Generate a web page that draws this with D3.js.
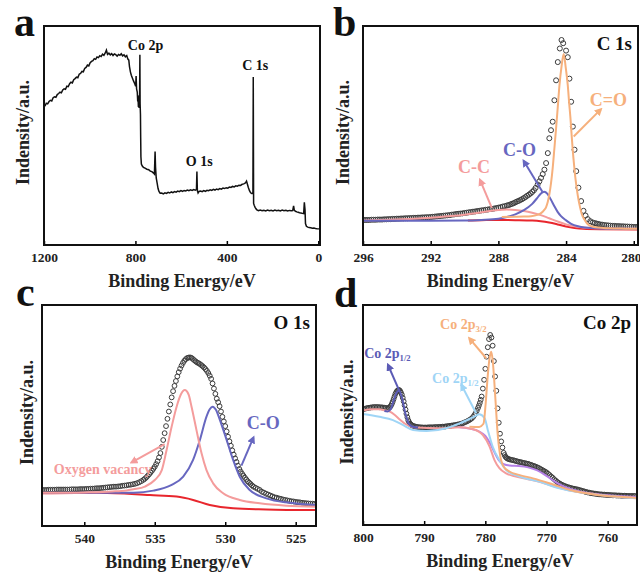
<!DOCTYPE html>
<html>
<head>
<meta charset="utf-8">
<title>XPS spectra</title>
<script src="https://cdn.jsdelivr.net/npm/d3@7/dist/d3.min.js"></script>
<style>
  body { margin: 0; background: #fff; }
  svg text { font-family: "Liberation Serif", "Times New Roman", serif; font-weight: bold; }
</style>
</head>
<body>
<script>
// binding energy (eV), intensity (a.u.)
var surveyData = [[1196,61.8],[1190,63.2],[1184,62.9],[1178,64.0],[1172,64.6],[1166,64.3],[1160,65.8],[1154,66.2],[1148,66.0],[1142,67.3],[1136,67.8],[1130,68.4],[1124,68.1],[1118,69.5],[1112,70.0],[1106,69.8],[1100,71.2],[1094,71.0],[1088,72.4],[1082,73.1],[1076,72.8],[1070,74.3],[1064,74.8],[1058,75.5],[1052,75.2],[1046,76.9],[1040,77.3],[1034,78.2],[1028,78.0],[1022,79.6],[1016,80.1],[1010,81.2],[1004,80.8],[998,82.3],[992,82.9],[986,83.3],[980,84.2],[974,83.9],[968,85.0],[962,84.7],[956,85.6],[950,85.2],[944,86.3],[938,85.8],[932,86.9],[927,88.2],[922,86.2],[916,86.8],[910,86.0],[904,86.6],[898,85.7],[892,86.4],[886,86.1],[880,85.4],[874,86.2],[868,85.8],[862,86.5],[856,85.5],[850,86.0],[844,85.1],[838,85.7],[833,84.0],[829,83.5],[826,80.5],[822,78.0],[818,76.4],[813,75.0],[808,73.6],[803,72.4],[799,71.2],[797,76.0],[795,70.0],[792,68.5],[790,64.0],[789,67.0],[787,61.5],[786,66.5],[784,61.0],[783,65.0],[782,62.0],[780.5,86.0],[779.5,63.0],[778,58.0],[777,47.0],[776,38.0],[774,34.5],[770,33.6],[765,33.0],[758,32.6],[750,32.1],[742,31.9],[735,31.2],[728,31.0],[722,30.4],[717,29.8],[714,40.5],[712,33.0],[709,28.0],[705,25.5],[701,23.0],[697,21.6],[692,20.8],[685,20.9],[678,20.5],[671,21.0],[664,20.7],[657,21.2],[650,20.9],[643,21.4],[636,21.1],[629,21.6],[622,21.3],[615,21.8],[608,21.5],[601,22.0],[594,21.7],[587,22.1],[580,21.9],[573,22.3],[566,22.0],[559,22.4],[552,22.1],[545,22.5],[538,22.2],[533,22.6],[531,31.0],[529,22.0],[526,20.9],[522,21.6],[515,21.8],[508,21.5],[501,22.0],[494,21.7],[487,22.2],[480,22.0],[473,22.4],[466,22.1],[459,22.6],[452,22.3],[445,22.8],[438,22.5],[431,23.0],[424,22.7],[417,23.2],[410,23.0],[403,23.4],[396,23.2],[389,23.7],[382,23.5],[375,24.0],[368,23.8],[361,24.3],[354,24.1],[347,24.6],[340,24.5],[333,25.0],[326,25.2],[319,25.6],[314,26.5],[310,25.0],[306,23.5],[301,22.0],[296,21.0],[290,20.6],[286,21.0],[284.5,75.6],[283,16.0],[280,15.0],[276,14.0],[270,13.1],[262,12.6],[254,12.9],[246,12.6],[238,12.8],[230,12.5],[222,12.9],[214,12.6],[206,12.8],[198,12.5],[190,12.9],[182,12.6],[174,12.8],[166,12.5],[158,12.9],[150,12.6],[142,12.8],[134,12.4],[126,12.7],[118,12.5],[112,12.6],[108,14.8],[105,12.8],[100,12.3],[94,12.0],[88,11.8],[82,11.6],[76,11.5],[70,11.3],[64,11.2],[61,16.5],[58,13.0],[56,6.5],[52,5.2],[46,4.8],[40,4.6],[33,4.5],[26,4.3],[19,4.4],[12,4.2],[5,4.1],[-5,4.0]];
var surveyPeaks = [["Co 2p",756,88.5],["C 1s",276,79],["O 1s",521,33.6]];

var c1sData = [[296,8.2],[295.875,8.2],[295.75,8.2],[295.625,8.2],[295.5,8.3],[295.375,8.3],[295.25,8.3],[295.125,8.4],[295,8.4],[294.875,8.4],[294.75,8.5],[294.625,8.5],[294.5,8.6],[294.375,8.6],[294.25,8.7],[294.125,8.7],[294,8.8],[293.875,8.8],[293.75,8.9],[293.625,8.9],[293.5,9.0],[293.375,9.0],[293.25,9.1],[293.125,9.1],[293,9.2],[292.875,9.2],[292.75,9.3],[292.625,9.3],[292.5,9.4],[292.375,9.4],[292.25,9.5],[292.125,9.5],[292,9.6],[291.875,9.7],[291.75,9.8],[291.625,9.9],[291.5,10.0],[291.375,10.1],[291.25,10.2],[291.125,10.3],[291,10.4],[290.875,10.5],[290.75,10.7],[290.625,10.8],[290.5,11.0],[290.375,11.1],[290.25,11.2],[290.125,11.3],[290,11.5],[289.875,11.6],[289.75,11.8],[289.625,11.9],[289.5,12.1],[289.375,12.2],[289.25,12.4],[289.125,12.5],[289,12.7],[288.875,12.8],[288.75,13.0],[288.625,13.1],[288.5,13.3],[288.375,13.4],[288.25,13.6],[288.125,13.8],[288,14.0],[287.875,14.2],[287.75,14.5],[287.625,14.7],[287.5,15.0],[287.4,15.2],[287.3,15.5],[287.2,15.8],[287.1,16.1],[287,16.5],[286.9,16.9],[286.8,17.2],[286.7,17.6],[286.6,18.0],[286.5,18.5],[286.4,19.0],[286.3,19.6],[286.2,20.1],[286.1,20.7],[286,21.4],[285.9,22.2],[285.8,23.3],[285.68,24.9],[285.58,26.4],[285.48,28.0],[285.38,29.8],[285.28,31.9],[285.18,35.0],[285.08,39.7],[284.99,46.7],[284.89,50.5],[284.79,54.5],[284.69,64.6],[284.59,74.0],[284.49,82.6],[284.37,89.0],[284.27,93.0],[284.17,91.5],[284.0,88.0],[283.9,84.9],[283.8,74.8],[283.7,63.9],[283.6,52.2],[283.5,41.3],[283.4,31.2],[283.27,23.4],[283.11,17.1],[282.97,12.5],[282.85,10.3],[282.72,8.6],[282.57,7.6],[282.42,7.0],[282.3,6.7],[282.2,6.5],[282.1,6.3],[282,6.1],[281.875,6.0],[281.75,5.8],[281.625,5.7],[281.5,5.6],[281.375,5.5],[281.25,5.4],[281.125,5.4],[281,5.3],[280.875,5.3],[280.75,5.2],[280.625,5.2],[280.5,5.1],[280.375,5.1],[280.25,5.0],[280.125,5.0],[280,4.9],[279.875,4.9],[279.75,4.9]];
var c1sCdO = [[287.8,9.6],[287,9.7],[286.5,9.8],[286.07,10.0],[285.7,10.6],[285.48,11.4],[285.3,12.8],[285.18,14.3],[285.08,16.8],[284.99,20.2],[284.89,25.5],[284.79,32.7],[284.69,42.0],[284.59,51.4],[284.49,61.5],[284.39,71.7],[284.27,80.5],[284.14,86.4],[284.02,80.0],[283.9,71.7],[283.82,63.5],[283.74,56.1],[283.67,48.0],[283.6,40.5],[283.52,33.5],[283.45,28.0],[283.36,22.5],[283.27,17.9],[283.17,14.0],[283.07,10.9],[282.9,8.2],[282.72,6.2],[282.4,5.0],[282.13,4.6],[281.5,4.3],[280.5,4.1],[279.75,4.0]];
var c1sCO = [[296,7.8],[292,7.8],[290,7.9],[289,8.2],[288,8.8],[287.5,9.6],[287,10.8],[286.5,12.8],[286,15.8],[285.7,18.6],[285.5,20.6],[285.3,21.5],[285.1,20.5],[284.9,17.8],[284.7,14.8],[284.5,12.0],[284.3,10.0],[284,8.0],[283.7,6.4],[283.3,5.2],[282.9,4.6],[282,4.2],[279.75,4.0]];
var c1sCC = [[296,7.9],[294,8.4],[292,9.2],[291,9.9],[290,10.7],[289,11.8],[288.5,12.4],[288,12.9],[287.5,13.1],[287,12.9],[286.5,12.4],[286,11.6],[285.5,10.5],[285,9.0],[284.5,7.5],[284,6.1],[283.5,5.2],[283,4.7],[282,4.3],[279.75,4.1]];
var c1sBg = [[289.8,8.0],[289,8.1],[288,8.2],[287,8.1],[286,7.9],[285.5,7.6],[285,7.0],[284.5,6.1],[284,5.1],[283.5,4.4],[283,4.0],[282,3.8],[279.75,3.7]];

var o1sData = [[543,16.3],[542.85,16.3],[542.7,16.3],[542.55,16.4],[542.4,16.4],[542.25,16.4],[542.1,16.4],[541.95,16.5],[541.8,16.5],[541.65,16.5],[541.5,16.5],[541.35,16.5],[541.2,16.5],[541.05,16.5],[540.9,16.6],[540.75,16.6],[540.6,16.6],[540.45,16.6],[540.3,16.7],[540.15,16.7],[540,16.7],[539.85,16.8],[539.7,16.8],[539.55,16.9],[539.4,16.9],[539.25,17.0],[539.1,17.1],[538.95,17.1],[538.8,17.2],[538.65,17.3],[538.5,17.4],[538.35,17.5],[538.2,17.6],[538.05,17.7],[537.9,17.8],[537.75,17.8],[537.6,17.9],[537.45,18.0],[537.3,18.2],[537.15,18.3],[537,18.4],[536.85,18.6],[536.7,18.7],[536.55,18.9],[536.4,19.1],[536.25,19.4],[536.1,19.8],[535.95,20.3],[535.8,20.9],[535.7,21.4],[535.6,22.0],[535.5,22.7],[535.4,23.4],[535.3,24.2],[535.2,25.0],[535.1,25.9],[535,26.8],[534.9,28.0],[534.8,29.3],[534.7,31.0],[534.6,33.0],[534.5,35.8],[534.4,38.9],[534.3,42.0],[534.2,45.2],[534.1,48.5],[534,51.8],[533.9,55.0],[533.8,58.2],[533.7,61.0],[533.6,63.4],[533.5,65.6],[533.4,67.7],[533.3,69.6],[533.2,71.2],[533.1,72.6],[533,73.8],[532.9,74.8],[532.8,75.5],[532.7,76.0],[532.6,76.2],[532.5,76.3],[532.4,76.1],[532.3,75.6],[532.2,75.0],[532.1,74.5],[532,74.0],[531.9,73.7],[531.8,73.3],[531.7,72.8],[531.6,72.3],[531.5,71.7],[531.4,71.0],[531.3,70.2],[531.2,69.2],[531.1,68.0],[531,66.6],[530.9,64.5],[530.8,62.2],[530.7,59.8],[530.6,57.6],[530.5,56.0],[530.4,54.2],[530.3,51.8],[530.2,49.4],[530.1,47.3],[530,45.2],[529.9,42.8],[529.8,40.4],[529.7,38.3],[529.6,36.3],[529.5,34.2],[529.4,32.3],[529.3,30.6],[529.2,29.0],[529.1,27.3],[529,25.8],[528.9,24.6],[528.8,23.6],[528.7,22.7],[528.6,21.8],[528.5,21.0],[528.4,20.2],[528.3,19.6],[528.2,19.0],[528.1,18.4],[528,17.8],[527.85,17.3],[527.7,16.8],[527.55,16.3],[527.4,15.5],[527.25,15.1],[527.1,14.6],[526.95,14.2],[526.8,13.8],[526.65,13.4],[526.5,13.0],[526.35,12.8],[526.2,12.5],[526.05,12.3],[525.9,12.0],[525.75,11.8],[525.6,11.6],[525.45,11.4],[525.3,11.2],[525.15,11.1],[525,10.9],[524.85,10.8],[524.7,10.7],[524.55,10.5],[524.4,10.4],[524.25,10.3],[524.1,10.2],[523.95,10.1],[523.8,10.1],[523.65,10.0]];
var o1sVacancy = [[543,15.0],[540,15.2],[538,15.6],[537,16.1],[536.5,16.6],[535.7,17.8],[535,20.8],[534.5,25.3],[534.16,34.4],[533.8,45.0],[533.45,54.0],[533.15,59.5],[532.87,61.5],[532.6,59.5],[532.39,54.0],[532.04,43.4],[531.68,32.9],[531.33,25.3],[530.86,19.3],[530.15,14.8],[528.97,11.8],[527.55,10.3],[525.66,9.2],[523.56,8.7]];
var o1sCO = [[543,15.0],[538.9,15.1],[536.5,15.1],[535.1,16.0],[533.8,18.6],[532.98,22.3],[532.28,29.9],[531.8,38.9],[531.33,49.5],[531.1,52.8],[530.9,54.0],[530.65,52.5],[530.38,48.0],[529.9,38.9],[529.44,29.9],[528.97,22.3],[528.26,16.3],[527.08,12.5],[525.42,10.5],[523.56,9.5]];
var o1sBg = [[543,14.8],[538.9,15.1],[535.35,14.0],[533.45,13.3],[532.28,11.8],[531.1,9.5],[529.44,8.0],[527.08,7.5],[523.56,7.2]];

var co2pData = [[800,52.6],[799.75,52.8],[799.5,53.0],[799.25,53.2],[799,53.3],[798.75,53.4],[798.5,53.5],[798.25,53.6],[798,53.6],[797.75,53.6],[797.5,53.6],[797.25,53.5],[797,53.5],[796.75,53.4],[796.5,53.3],[796.25,53.2],[796,53.1],[795.8,53.2],[795.6,53.6],[795.45,54.2],[795.3,55.0],[795.15,56.0],[795,57.2],[794.85,58.4],[794.7,59.6],[794.55,60.4],[794.4,61.0],[794.25,61.3],[794.1,61.4],[793.95,61.0],[793.8,60.2],[793.65,59.2],[793.5,57.8],[793.35,56.2],[793.2,54.4],[793.05,52.5],[792.9,50.6],[792.75,49.0],[792.6,47.6],[792.45,46.7],[792.3,46.0],[792.15,45.6],[792,45.3],[791.75,45.0],[791.5,44.8],[791.25,44.6],[791,44.5],[790.75,44.4],[790.5,44.4],[790.25,44.3],[790,44.3],[789.75,44.3],[789.5,44.3],[789.25,44.4],[789,44.4],[788.75,44.4],[788.5,44.4],[788.25,44.5],[788,44.5],[787.75,44.5],[787.5,44.6],[787.25,44.6],[787,44.7],[786.75,44.7],[786.5,44.8],[786.25,44.9],[786,45.0],[785.75,45.1],[785.5,45.2],[785.25,45.3],[785,45.4],[784.75,45.5],[784.5,45.7],[784.25,45.8],[784,46.0],[783.75,46.2],[783.5,46.5],[783.25,46.8],[783,47.1],[782.75,47.5],[782.5,47.9],[782.25,48.4],[782,49.1],[781.8,49.9],[781.6,50.8],[781.4,51.9],[781.2,53.2],[781.05,54.3],[780.9,55.5],[780.75,56.9],[780.6,58.4],[780.4,62.0],[780.2,66.0],[780,71.0],[779.8,76.5],[779.6,80.8],[779.4,84.5],[779.2,86.4],[779,85.2],[778.8,81.5],[778.6,74.5],[778.4,67.5],[778.2,61.0],[778,53.0],[777.8,46.5],[777.6,41.5],[777.4,38.0],[777.2,35.2],[777,32.8],[776.85,31.8],[776.7,31.0],[776.55,30.6],[776.4,30.2],[776.2,30.0],[776,29.8],[775.75,29.6],[775.5,29.5],[775.25,29.3],[775,29.1],[774.75,28.9],[774.5,28.7],[774.25,28.6],[774,28.4],[773.75,28.2],[773.5,28.1],[773.25,27.9],[773,27.8],[772.75,27.5],[772.5,27.3],[772.25,27.0],[772,26.8],[771.75,26.5],[771.5,26.2],[771.25,25.9],[771,25.5],[770.75,25.1],[770.5,24.7],[770.25,24.3],[770,23.9],[769.75,23.3],[769.5,22.7],[769.25,22.1],[769,21.5],[768.75,20.8],[768.5,20.2],[768.25,19.6],[768,19.1],[767.75,18.7],[767.5,18.3],[767.25,18.0],[767,17.7],[766.75,17.4],[766.5,17.2],[766.25,17.0],[766,16.8],[765.75,16.6],[765.5,16.5],[765.25,16.3],[765,16.2],[764.75,16.0],[764.5,15.8],[764.25,15.6],[764,15.4],[763.75,15.2],[763.5,15.0],[763.25,14.8],[763,14.7],[762.75,14.5],[762.5,14.4],[762.25,14.3],[762,14.2],[761.75,14.1],[761.5,14.0],[761.25,13.9],[761,13.9],[760.75,13.8],[760.5,13.8],[760.25,13.7],[760,13.7],[759.75,13.6],[759.5,13.6],[759.25,13.5],[759,13.5],[758.75,13.5],[758.5,13.4],[758.25,13.4],[758,13.4],[757.75,13.3],[757.5,13.3],[757.25,13.3],[757,13.3],[756.75,13.2],[756.5,13.2],[756.25,13.2],[756,13.2],[755.75,13.2],[755.5,13.2]];
var co2pHalf = [[796.5,51.8],[796,51.6],[795.5,52.5],[795,56.5],[794.5,60.2],[794.1,61.0],[793.6,57.5],[793.1,51.0],[792.6,46.5],[792,44.8],[791,44.3]];
var co2pBase = [[800,52.0],[798.5,52.6],[797.3,52.6],[796.5,52.2],[795.6,51.5],[794.8,50.0],[794,48.0],[793,45.8],[791.8,44.4],[789,44.1],[786.9,44.0],[784.2,44.4],[782,43.5],[780.4,40.9],[779.3,35.6],[778.5,29.5],[777.7,25.8],[776.6,23.5],[775,22.0],[773,20.8],[771,19.5],[769,17.8],[767,16.2],[765,15.1],[762,14.0],[759,13.0],[755.2,12.2]];
var co2pSat = [[800,50.5],[797.3,49.2],[795.1,47.7],[793.5,45.5],[791.8,43.2],[789.6,42.7],[786.4,44.0],[784.2,46.2],[782,49.0],[781,50.3],[780.1,48.5],[779.6,43.2],[778.8,35.6],[777.7,29.5],[776.6,25.0],[774.4,22.0],[771.2,19.7],[767.9,16.7],[764,14.6],[760,13.2],[755.2,12.1]];
var co2pMain = [[782.6,44.7],[781,44.6],[780.3,46.0],[779.95,55.0],[779.6,68.0],[779.3,76.0],[779.05,78.8],[778.8,75.0],[778.55,66.0],[778.3,55.0],[778,42.0],[777.6,32.0],[777,26.5],[776,24.2],[774.5,22.8],[772.2,21.2],[769,18.5],[766,15.8],[762,13.8],[758,12.8],[755.2,12.3]];
var co2pTail = [[784.5,44.6],[782.5,43.8],[781,42.5],[780,40.5],[779.2,37.0],[778.5,33.0],[777.8,29.5],[777,27.6],[776,27.0],[774.5,26.8],[773,26.2],[771.5,24.8],[770,22.3],[768.5,19.5],[767,17.3],[765.5,15.9],[763,14.4],[760,13.5],[757,12.9],[755.2,12.7]];

var surveyTicks = [1200, 800, 400, 0];
var c1sTicks = [296, 292, 288, 284, 280];
var o1sTicks = [540, 535, 530, 525];
var co2pTicks = [800, 790, 780, 770, 760];

var ORANGE = "#f6b07c", BLUE = "#6767c0", PINK = "#f49c9c", RED = "#e8262d",
    SKY = "#9fd5f6", VIOLET = "#b47fe6", NAVY = "#5b5bb5", DOTS = "#3c3c3c";

var svg = d3.select("body").append("svg").attr("width", 640).attr("height", 579);
var defs = svg.append("defs");

function arrowHead(id, color) {
  defs.append("marker").attr("id", id)
      .attr("viewBox", "0 0 10 10").attr("refX", 7).attr("refY", 5)
      .attr("markerWidth", 4).attr("markerHeight", 4).attr("orient", "auto")
    .append("path").attr("d", "M0,0L10,5L0,10z").attr("fill", color);
}
[["ah-orange", ORANGE], ["ah-blue", BLUE], ["ah-pink", PINK], ["ah-sky", SKY], ["ah-navy", NAVY]]
  .forEach(function(a) { arrowHead(a[0], a[1]); });

function panel(id, box, xDomain, yDomain, ticks, letter, lx, ly, titleX) {
  var p = {};
  p.x = d3.scaleLinear().domain(xDomain).range([box.left, box.right]);
  p.y = d3.scaleLinear().domain(yDomain).range([box.bottom, box.top]);
  p.box = box;
  p.g = svg.append("g");
  defs.append("clipPath").attr("id", "clip-" + id)
    .append("rect").attr("x", box.left).attr("y", box.top)
    .attr("width", box.right - box.left).attr("height", box.bottom - box.top);
  p.plot = p.g.append("g").attr("clip-path", "url(#clip-" + id + ")");

  var ax = p.g.append("g").attr("transform", "translate(0," + box.bottom + ")")
      .call(d3.axisBottom(p.x).tickValues(ticks).tickFormat(d3.format("d"))
        .tickSizeInner(-4).tickSizeOuter(0).tickPadding(7.5));
  ax.select(".domain").remove();
  ax.selectAll("line").attr("stroke", "#000").attr("stroke-width", 1.5);
  ax.selectAll("text").attr("font-size", 13.5).attr("fill", "#222");
  p.axis = ax;

  p.g.append("rect").attr("x", box.left).attr("y", box.top)
    .attr("width", box.right - box.left).attr("height", box.bottom - box.top)
    .attr("fill", "none").attr("stroke", "#111").attr("stroke-width", 2);

  p.g.append("text").attr("x", (box.left + box.right) / 2).attr("y", box.bottom + 42)
    .attr("text-anchor", "middle").attr("font-size", 18).attr("fill", "#222")
    .text("Binding Energy/eV");
  p.g.append("text")
    .attr("transform", "translate(" + titleX + "," + ((box.top + box.bottom) / 2 - 3) + ") rotate(-90)")
    .attr("text-anchor", "middle").attr("font-size", 18).attr("fill", "#222")
    .text("Indensity/a.u.");
  svg.append("text").attr("x", lx).attr("y", ly).attr("font-size", 42).attr("fill", "#111").text(letter);
  return p;
}

function line(p, data, color, width) {
  var gen = d3.line().x(function(d) { return p.x(d[0]); }).y(function(d) { return p.y(d[1]); })
      .curve(d3.curveMonotoneX);
  p.plot.append("path").datum(data).attr("d", gen)
    .attr("fill", "none").attr("stroke", color).attr("stroke-width", width || 2);
}

function dots(p, data, r) {
  p.plot.selectAll(null).data(data).enter().append("circle")
    .attr("cx", function(d) { return p.x(d[0]); })
    .attr("cy", function(d) { return p.y(d[1]); })
    .attr("r", r).attr("fill", "none").attr("stroke", DOTS).attr("stroke-width", 1);
}

function arrow(p, from, to, marker, color) {
  p.g.append("line")
    .attr("x1", p.x(from[0])).attr("y1", p.y(from[1]))
    .attr("x2", p.x(to[0])).attr("y2", p.y(to[1]))
    .attr("stroke", color).attr("stroke-width", 2).attr("marker-end", "url(#" + marker + ")");
}

function label(p, txt, at, color, size, sub) {
  var t = p.g.append("text").attr("x", p.x(at[0])).attr("y", p.y(at[1]))
    .attr("text-anchor", "middle").attr("font-size", size).attr("fill", color).text(txt);
  if (sub) t.append("tspan").attr("font-size", size * 0.62).attr("dy", 3).text(sub);
}

function corner(p, txt) {
  p.g.append("text").attr("x", p.box.right - 6).attr("y", p.box.top + 24)
    .attr("text-anchor", "end").attr("font-size", 19).attr("fill", "#111").text(txt);
}

// a: survey
var pa = panel("a", {left: 44, right: 320, top: 26, bottom: 245}, [1200, -7.5], [-3.6, 99.6], surveyTicks, "a", 14, 36, 29);
pa.plot.append("path").datum(surveyData)
  .attr("d", d3.line().x(function(d) { return pa.x(d[0]); }).y(function(d) { return pa.y(d[1]); }))
  .attr("fill", "none").attr("stroke", "#111").attr("stroke-width", 1.5);
surveyPeaks.forEach(function(s) { label(pa, s[0], [s[1], s[2]], "#111", 14); });

// b: C 1s
var pb = panel("b", {left: 363, right: 638, top: 26, bottom: 245}, [296, 279.75], [-3.6, 99.6], c1sTicks, "b", 333, 36, 349);
pb.axis.selectAll("text").filter(function(d) { return d === 280; }).attr("dx", -3);
dots(pb, c1sData, 2.5);
line(pb, c1sBg, RED);
line(pb, c1sCC, PINK);
line(pb, c1sCO, BLUE);
line(pb, c1sCdO, ORANGE);
corner(pb, "C 1s");
label(pb, "C=O", [281.5, 62], ORANGE, 18);
arrow(pb, [283.55, 47.5], [281.95, 60.3], "ah-orange", ORANGE);
label(pb, "C-O", [286.75, 38.5], BLUE, 18);
arrow(pb, [285.4, 21.5], [286.5, 36], "ah-blue", BLUE);
label(pb, "C-C", [289.44, 30.5], PINK, 18);
arrow(pb, [288.39, 13.9], [289.08, 27], "ah-pink", PINK);

// c: O 1s
var pc = panel("c", {left: 42, right: 316, top: 305, bottom: 526}, [543, 523.56], [0, 100], o1sTicks, "c", 16, 306, 33);
label(pc, "Oxygen vacancy", [538.7, 23.5], PINK, 14);
dots(pc, o1sData, 2.4);
line(pc, o1sBg, RED);
line(pc, o1sCO, BLUE);
line(pc, o1sVacancy, PINK);
corner(pc, "O 1s");
label(pc, "C-O", [527.3, 43.8], BLUE, 18);
arrow(pc, [528.85, 27.3], [528.0, 40], "ah-blue", BLUE);
arrow(pc, [534.3, 37], [536.64, 28.8], "ah-pink", PINK);

// d: Co 2p
var pd = panel("d", {left: 363, right: 637, top: 305, bottom: 525}, [800, 755.2], [0, 100], co2pTicks, "d", 334, 307, 353);
dots(pd, co2pData, 2.4);
line(pd, co2pTail, VIOLET);
line(pd, co2pBase, PINK);
line(pd, co2pSat, SKY);
line(pd, co2pMain, ORANGE);
line(pd, co2pHalf, NAVY);
corner(pd, "Co 2p");
label(pd, "Co 2p", [783.6, 88.9], ORANGE, 14, "3/2");
arrow(pd, [779.85, 75.8], [782.6, 84.8], "ah-orange", ORANGE);
label(pd, "Co 2p", [796.0, 75.8], NAVY, 14, "1/2");
arrow(pd, [794, 60.6], [795.9, 72.7], "ah-navy", NAVY);
label(pd, "Co 2p", [784.9, 64.4], SKY, 14, "1/2");
arrow(pd, [781.5, 50.8], [783.9, 63.6], "ah-sky", SKY);
</script>
</body>
</html>
